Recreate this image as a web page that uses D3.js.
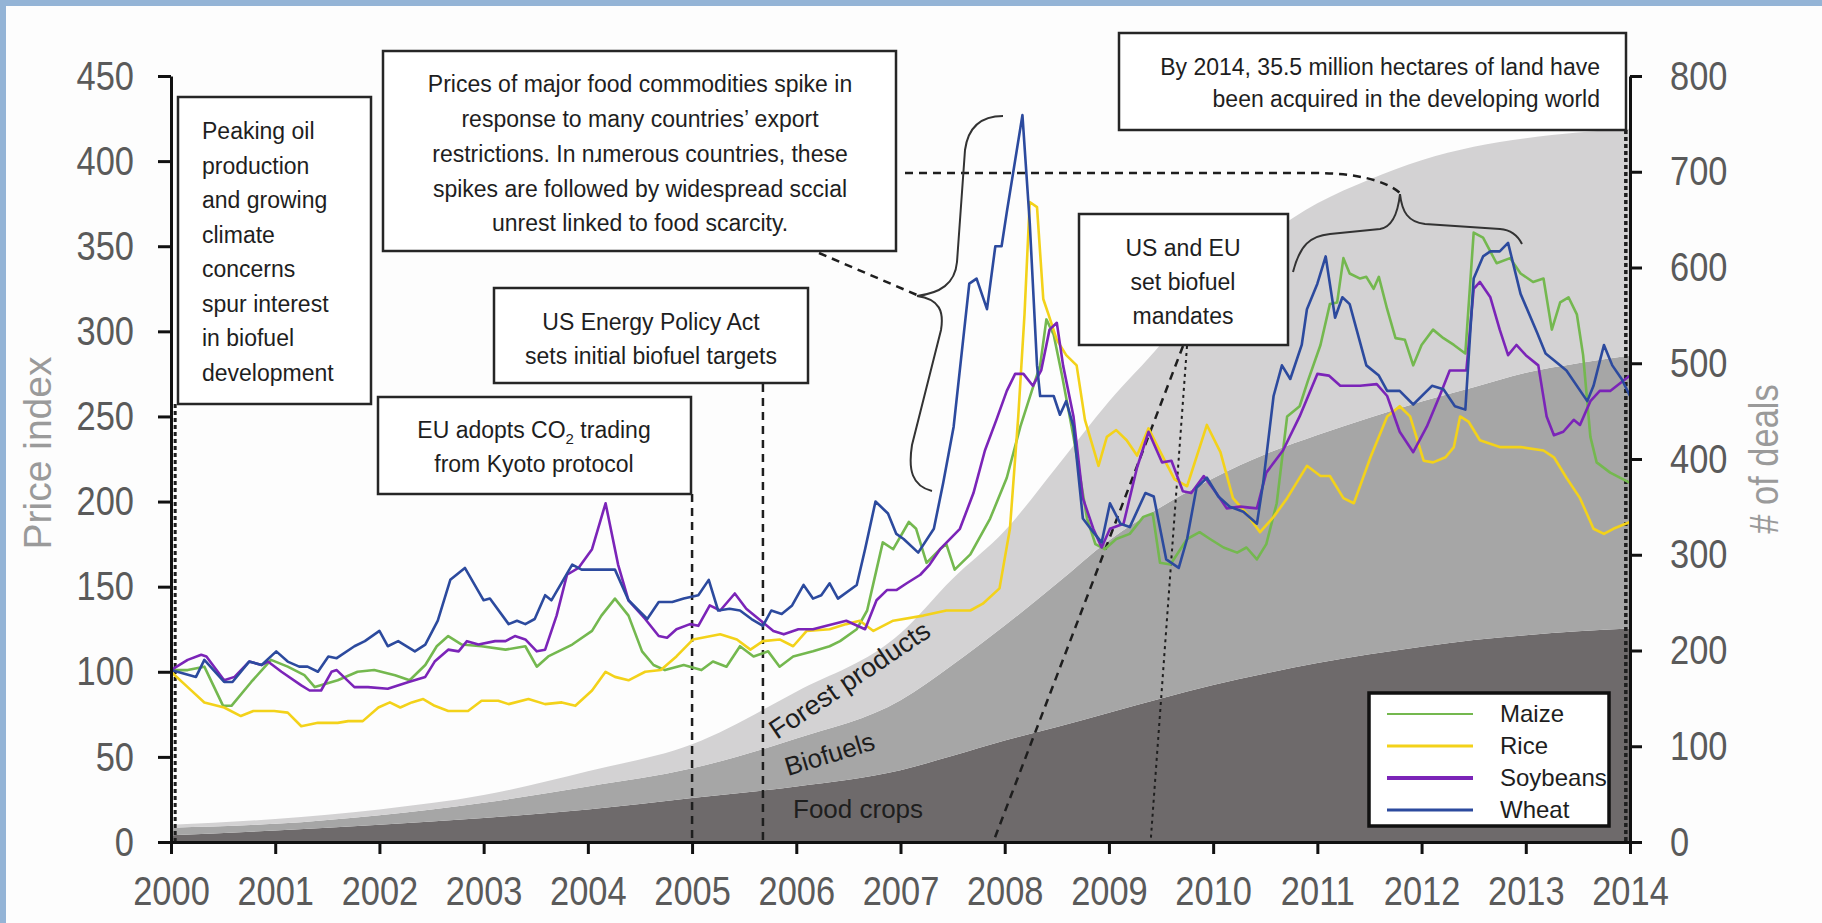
<!DOCTYPE html>
<html>
<head>
<meta charset="utf-8">
<script src="https://cdn.jsdelivr.net/npm/d3@7"></script>
<style>
  body { margin: 0; background: #fff; }
  svg { display: block; }
</style>
</head>
<body>
<script>
// chart data
var areaYears = [2000, 2001, 2002, 2003, 2004, 2005, 2006, 2007, 2007.5, 2008, 2008.5,
                 2009, 2009.5, 2010, 2010.5, 2011, 2011.5, 2012, 2012.5, 2013, 2013.5, 2014];
var foodCrops = [7, 12, 18, 25, 34, 46, 58, 75, 90, 106, 120, 135, 150, 164, 176, 187, 196, 204, 211, 216, 220, 223];
var biofuels = [8, 7, 10, 16, 24, 31, 50, 73, 95, 120, 150, 180, 200, 216, 229, 238, 247, 256, 264, 274, 280, 285];
var forestProducts = [3, 5, 6, 8, 16, 25, 49, 70, 90, 99, 122, 145, 170, 210, 227, 242, 249, 252, 251, 245, 241, 237];

var maize = [[2000.00,101],[2000.16,101],[2000.32,103],[2000.50,80],[2000.58,80],[2000.77,94],[2000.96,107],[2001.12,103],[2001.28,98],[2001.38,91],[2001.60,95],[2001.79,100],[2001.95,101],[2002.15,98],[2002.29,95],[2002.44,104],[2002.55,115],[2002.66,121],[2002.79,116],[2002.98,115],[2003.21,113],[2003.40,115],[2003.51,103],[2003.62,109],[2003.85,116],[2004.04,124],[2004.13,133],[2004.26,143],[2004.39,133],[2004.52,112],[2004.63,104],[2004.74,101],[2004.92,104],[2005.09,101],[2005.20,106],[2005.33,103],[2005.46,115],[2005.59,109],[2005.73,112],[2005.84,103],[2005.97,109],[2006.16,112],[2006.32,115],[2006.42,118],[2006.58,125],[2006.68,136],[2006.77,160],[2006.83,176],[2006.93,172],[2007.08,188],[2007.15,184],[2007.25,164],[2007.38,172],[2007.44,175],[2007.52,160],[2007.67,169],[2007.86,190],[2008.02,214],[2008.15,244],[2008.26,265],[2008.34,280],[2008.40,307],[2008.47,298],[2008.55,274],[2008.66,238],[2008.79,190],[2008.87,175],[2008.96,172],[2009.07,178],[2009.20,181],[2009.33,191],[2009.42,193],[2009.49,164],[2009.59,163],[2009.75,178],[2009.87,182],[2009.97,178],[2010.10,173],[2010.23,170],[2010.32,173],[2010.42,166],[2010.51,175],[2010.61,199],[2010.71,250],[2010.83,256],[2010.91,271],[2011.03,292],[2011.12,316],[2011.19,317],[2011.25,343],[2011.31,334],[2011.41,331],[2011.47,332],[2011.54,325],[2011.59,332],[2011.67,313],[2011.75,296],[2011.84,295],[2011.92,280],[2012.00,292],[2012.11,301],[2012.21,296],[2012.31,292],[2012.42,287],[2012.50,358],[2012.59,355],[2012.72,340],[2012.85,343],[2012.95,334],[2013.07,329],[2013.17,331],[2013.25,301],[2013.33,317],[2013.41,320],[2013.49,310],[2013.55,286],[2013.62,238],[2013.68,223],[2013.81,217],[2014.00,211]];

var rice = [[2000.00,100],[2000.16,91],[2000.32,82],[2000.51,79],[2000.67,74],[2000.79,77],[2000.99,77],[2001.12,76],[2001.25,68],[2001.41,70],[2001.60,70],[2001.70,71],[2001.84,71],[2001.99,79],[2002.10,82],[2002.20,79],[2002.31,82],[2002.42,84],[2002.53,80],[2002.66,77],[2002.85,77],[2002.98,83],[2003.14,83],[2003.24,81],[2003.43,84],[2003.59,81],[2003.75,82],[2003.88,80],[2004.04,89],[2004.17,100],[2004.26,97],[2004.39,95],[2004.55,100],[2004.70,101],[2004.85,109],[2005.01,119],[2005.27,122],[2005.43,119],[2005.56,113],[2005.68,118],[2005.84,119],[2005.97,115],[2006.10,124],[2006.32,125],[2006.48,128],[2006.61,130],[2006.74,124],[2006.93,130],[2007.22,133],[2007.44,136],[2007.67,136],[2007.79,140],[2007.95,149],[2008.05,184],[2008.13,250],[2008.19,310],[2008.24,376],[2008.31,373],[2008.37,319],[2008.42,310],[2008.50,295],[2008.59,286],[2008.69,280],[2008.77,248],[2008.90,221],[2008.98,238],[2009.07,242],[2009.17,236],[2009.27,227],[2009.38,243],[2009.52,226],[2009.63,213],[2009.75,209],[2009.94,245],[2010.07,229],[2010.19,202],[2010.32,193],[2010.45,182],[2010.58,191],[2010.71,202],[2010.90,221],[2011.03,215],[2011.12,215],[2011.25,202],[2011.35,199],[2011.51,226],[2011.67,250],[2011.79,256],[2011.89,250],[2012.02,224],[2012.11,223],[2012.23,226],[2012.31,232],[2012.37,250],[2012.45,247],[2012.56,236],[2012.75,232],[2012.95,232],[2013.17,230],[2013.27,226],[2013.39,214],[2013.52,202],[2013.65,184],[2013.75,181],[2013.84,184],[2014.00,188]];

var soybeans = [[2000.00,101],[2000.16,107],[2000.29,110],[2000.34,109],[2000.51,95],[2000.61,97],[2000.75,106],[2000.87,104],[2000.93,106],[2001.06,100],[2001.25,92],[2001.33,89],[2001.44,89],[2001.54,100],[2001.59,101],[2001.76,91],[2001.89,91],[2002.08,90],[2002.28,94],[2002.44,97],[2002.53,106],[2002.66,113],[2002.76,112],[2002.84,118],[2002.95,116],[2003.11,118],[2003.21,118],[2003.30,121],[2003.40,119],[2003.51,112],[2003.59,113],[2003.70,133],[2003.80,157],[2003.91,161],[2004.04,172],[2004.17,199],[2004.29,163],[2004.39,142],[2004.55,131],[2004.68,121],[2004.76,120],[2004.85,125],[2004.98,128],[2005.06,127],[2005.17,139],[2005.27,136],[2005.41,146],[2005.52,137],[2005.64,131],[2005.78,124],[2005.88,122],[2006.02,125],[2006.16,125],[2006.29,127],[2006.48,130],[2006.66,125],[2006.77,142],[2006.87,148],[2006.96,148],[2007.06,152],[2007.19,157],[2007.28,163],[2007.38,172],[2007.57,184],[2007.70,205],[2007.81,230],[2007.92,248],[2008.02,265],[2008.10,275],[2008.18,275],[2008.27,268],[2008.35,277],[2008.43,301],[2008.50,305],[2008.56,280],[2008.66,250],[2008.75,202],[2008.85,184],[2008.93,173],[2009.01,184],[2009.14,187],[2009.27,220],[2009.38,241],[2009.51,223],[2009.60,224],[2009.71,206],[2009.79,205],[2009.91,215],[2010.03,205],[2010.13,196],[2010.26,197],[2010.42,196],[2010.51,217],[2010.67,230],[2010.83,250],[2011.00,275],[2011.11,274],[2011.22,268],[2011.41,268],[2011.57,269],[2011.67,262],[2011.79,241],[2011.92,229],[2012.05,244],[2012.18,263],[2012.27,277],[2012.43,277],[2012.50,325],[2012.56,329],[2012.66,320],[2012.75,301],[2012.83,286],[2012.91,292],[2013.00,286],[2013.12,280],[2013.20,250],[2013.27,239],[2013.36,241],[2013.46,248],[2013.52,245],[2013.62,259],[2013.71,265],[2013.81,265],[2014.00,274]];

var wheat = [[2000.00,101],[2000.24,97],[2000.32,107],[2000.51,94],[2000.59,94],[2000.75,106],[2000.87,104],[2001.01,112],[2001.12,106],[2001.23,103],[2001.31,103],[2001.41,100],[2001.51,109],[2001.59,108],[2001.76,115],[2001.86,118],[2002.00,124],[2002.08,115],[2002.18,118],[2002.34,112],[2002.44,116],[2002.56,130],[2002.68,154],[2002.82,161],[2003.00,142],[2003.06,143],[2003.24,128],[2003.32,130],[2003.40,128],[2003.49,131],[2003.59,145],[2003.65,142],[2003.85,163],[2003.94,160],[2004.07,160],[2004.26,160],[2004.39,142],[2004.57,131],[2004.68,141],[2004.81,141],[2004.92,143],[2005.06,145],[2005.16,154],[2005.25,136],[2005.36,137],[2005.46,136],[2005.57,131],[2005.68,127],[2005.76,136],[2005.86,134],[2005.96,139],[2006.07,151],[2006.16,143],[2006.24,145],[2006.32,152],[2006.40,143],[2006.58,151],[2006.66,172],[2006.76,200],[2006.88,193],[2006.96,181],[2007.03,178],[2007.17,170],[2007.32,184],[2007.41,211],[2007.51,244],[2007.66,328],[2007.73,331],[2007.83,313],[2007.91,350],[2007.97,350],[2008.02,370],[2008.17,427],[2008.24,364],[2008.31,280],[2008.34,262],[2008.47,262],[2008.53,251],[2008.59,259],[2008.66,244],[2008.75,190],[2008.85,182],[2008.93,176],[2009.01,199],[2009.11,187],[2009.20,185],[2009.35,205],[2009.43,203],[2009.55,166],[2009.67,161],[2009.75,178],[2009.84,208],[2009.94,214],[2010.05,203],[2010.16,197],[2010.29,194],[2010.42,187],[2010.48,211],[2010.58,262],[2010.66,280],[2010.74,272],[2010.85,292],[2010.90,313],[2011.00,328],[2011.08,344],[2011.17,308],[2011.24,320],[2011.31,316],[2011.47,280],[2011.59,274],[2011.67,265],[2011.79,265],[2011.92,257],[2012.10,268],[2012.21,266],[2012.32,256],[2012.42,254],[2012.50,331],[2012.59,344],[2012.66,347],[2012.75,347],[2012.83,352],[2012.95,322],[2013.11,299],[2013.19,287],[2013.27,283],[2013.39,277],[2013.59,259],[2013.65,268],[2013.75,292],[2013.83,280],[2013.92,272],[2014.00,262]];

var seriesNames = ["Maize", "Rice", "Soybeans", "Wheat"];
var priceTicks = d3.range(0, 451, 50);
var dealTicks = d3.range(0, 801, 100);
var yearTicks = d3.range(2000, 2015, 1);

// ---------------------------------------------------------------
var W = 1822, H = 923;
var margin = {left: 171, right: 192, top: 76, bottom: 81};
var sans = '"Liberation Sans", Arial, sans-serif';
var squeeze = 0.84;   // tick labels in the picture are a narrow face

var colors = {Maize: "#74b84f", Rice: "#f3d21a", Soybeans: "#7b24b8", Wheat: "#2c4a9e"};
var layerColors = ["#6e6a6b", "#a6a6a6", "#d3d2d3"];

var svg = d3.select("body").append("svg")
            .attr("width", W)
            .attr("height", H);

svg.append("rect").attr("width", W).attr("height", H).attr("fill", "#fdfdfd");
svg.append("rect").attr("width", W).attr("height", 6).attr("fill", "#94b4d6");
svg.append("rect").attr("width", 6).attr("height", H).attr("fill", "#94b4d6");

var x = d3.scaleLinear().domain([2000, 2014]).range([margin.left, W - margin.right]);
var yPrice = d3.scaleLinear().domain([0, 450]).range([H - margin.bottom, margin.top]);
var yDeals = d3.scaleLinear().domain([0, 800]).range([H - margin.bottom, margin.top]);

// stacked land deal areas
var table = areaYears.map(function(yr, i) {
  return {year: yr, food: foodCrops[i], bio: biofuels[i], forest: forestProducts[i]};
});
var stacked = d3.stack().keys(["food", "bio", "forest"])(table);
var area = d3.area()
             .curve(d3.curveMonotoneX)
             .x(function(d) { return x(d.data.year); })
             .y0(function(d) { return yDeals(d[0]); })
             .y1(function(d) { return yDeals(d[1]); });

svg.selectAll(".layer")
   .data(stacked)
   .enter()
   .append("path")
   .attr("class", "layer")
   .attr("fill", function(d, i) { return layerColors[i]; })
   .attr("d", area);

// labels in the areas
svg.append("text")
   .attr("transform", "translate(777,740) rotate(-34)")
   .style("font-family", sans).style("font-size", "27px").attr("fill", "#1e1e1e")
   .text("Forest products");
svg.append("text")
   .attr("transform", "translate(788,776) rotate(-17)")
   .style("font-family", sans).style("font-size", "26px").attr("fill", "#1e1e1e")
   .text("Biofuels");
svg.append("text")
   .attr("x", 793).attr("y", 818)
   .style("font-family", sans).style("font-size", "26px").attr("fill", "#1e1e1e")
   .text("Food crops");

// dashed guide lines
function guide(x1, y1, x2, y2, dash, width) {
  svg.append("line")
     .attr("x1", x1).attr("y1", y1).attr("x2", x2).attr("y2", y2)
     .attr("stroke", "#1e1e1e")
     .attr("stroke-width", width)
     .attr("stroke-dasharray", dash);
}
var base = yPrice(0);
guide(x(2000.04), 404, x(2000.04), base, "4,3", 3);
guide(x(2005.0), 494, x(2005.0), base, "8,6", 2.5);
guide(x(2005.68), 384, x(2005.68), base, "8,6", 2.5);
guide(1183, 346, x(2007.89), base, "8,6", 2.5);
guide(1187, 346, x(2009.4), base, "3,4", 2);
guide(x(2013.96), 130, x(2013.96), base, "4,3", 3.5);
guide(819, 253, 917, 295, "8,6", 2.5);

svg.append("path")
   .attr("d", "M905,173 L1313,173 C1355,173 1385,180 1400,193")
   .attr("fill", "none").attr("stroke", "#1e1e1e")
   .attr("stroke-width", 2.5).attr("stroke-dasharray", "8,6");

// commodity price lines
var line = d3.line()
             .x(function(d) { return x(d[0]); })
             .y(function(d) { return yPrice(d[1]); });

var allSeries = [maize, rice, soybeans, wheat];
svg.selectAll(".price")
   .data(allSeries)
   .enter()
   .append("path")
   .attr("class", "price")
   .attr("fill", "none")
   .attr("stroke", function(d, i) { return colors[seriesNames[i]]; })
   .attr("stroke-width", 2.6)
   .attr("stroke-linejoin", "round")
   .attr("d", line);

// braces
svg.append("path")
   .attr("d", "M1003,116 C980,116 968,128 965,150 L957,262 C955,284 940,293 917,296 " +
              "C940,299 944,312 941,330 L912,445 C908,470 912,486 932,491")
   .attr("fill", "none").attr("stroke", "#333").attr("stroke-width", 2);
svg.append("path")
   .attr("d", "M1293,272 C1300,245 1310,236 1330,234 L1380,229 C1393,227 1398,212 1400,194 " +
              "C1402,212 1408,222 1425,224 L1500,229 C1512,230 1518,236 1522,244")
   .attr("fill", "none").attr("stroke", "#333").attr("stroke-width", 2);

// annotation boxes
function note(bx, by, bw, bh, tx, ty, anchor, textLines) {
  svg.append("rect")
     .attr("x", bx).attr("y", by).attr("width", bw).attr("height", bh)
     .attr("fill", "#fff").attr("stroke", "#262626").attr("stroke-width", 2.5);
  var t = svg.append("text")
             .style("font-family", sans).style("font-size", "23px")
             .attr("fill", "#1e1e1e")
             .attr("text-anchor", anchor);
  textLines.forEach(function(s, i) {
    t.append("tspan").attr("x", tx).attr("y", ty[i]).text(s);
  });
  return t;
}

note(178, 97, 193, 307, 202, d3.range(8).map(function(i) { return 139 + i * 34.5; }), "start",
     ["Peaking oil", "production", "and growing", "climate", "concerns",
      "spur interest", "in biofuel", "development"]);
note(383, 51, 513, 200, 640, [92, 127, 162, 197, 231], "middle",
     ["Prices of major food commodities spike in",
      "response to many countries\u2019 export",
      "restrictions. In n\u0279merous countries, these",
      "spikes are followed by widespread sccial",
      "unrest linked to food scarcity."]);
note(494, 288, 314, 95, 651, [330, 364], "middle",
     ["US Energy Policy Act", "sets initial biofuel targets"]);
note(1079, 214, 209, 131, 1183, [256, 290, 324], "middle",
     ["US and EU", "set biofuel", "mandates"]);
note(1119, 33, 507, 97, 1600, [75, 107], "end",
     ["By 2014, 35.5 million hectares of land have",
      "been acquired in the developing world"]);

// EU box with subscript
svg.append("rect")
   .attr("x", 378).attr("y", 397).attr("width", 313).attr("height", 97)
   .attr("fill", "#fff").attr("stroke", "#262626").attr("stroke-width", 2.5);
var eu = svg.append("text")
            .style("font-family", sans).style("font-size", "23px")
            .attr("fill", "#1e1e1e").attr("text-anchor", "middle");
var eu1 = eu.append("tspan").attr("x", 534).attr("y", 438);
eu1.append("tspan").text("EU adopts CO");
eu1.append("tspan").attr("dy", 6).style("font-size", "15px").text("2");
eu1.append("tspan").attr("dy", -6).text(" trading");
eu.append("tspan").attr("x", 534).attr("y", 472).text("from Kyoto protocol");

// axes
function styleAxis(g, offset) {
  g.select(".domain").attr("stroke", "#111").attr("stroke-width", 3);
  g.selectAll(".tick line").attr("stroke", "#111").attr("stroke-width", 3);
  var labels = g.selectAll(".tick text")
                .attr("fill", "#5a5a5a")
                .style("font-family", sans)
                .style("font-size", "41px")
                .attr("transform", "scale(" + squeeze + ",1)");
  if (offset) {
    labels.attr("x", offset / squeeze);
  }
}

svg.append("g")
   .attr("transform", "translate(" + margin.left + ",0)")
   .call(d3.axisLeft(yPrice).tickValues(priceTicks).tickSize(13).tickPadding(24).tickSizeOuter(0))
   .call(styleAxis, -37);

svg.append("g")
   .attr("transform", "translate(" + (W - margin.right) + ",0)")
   .call(d3.axisRight(yDeals).tickValues(dealTicks).tickSize(12).tickPadding(28).tickSizeOuter(0))
   .call(styleAxis, 40);

svg.append("g")
   .attr("transform", "translate(0," + (H - margin.bottom) + ")")
   .call(d3.axisBottom(x).tickValues(yearTicks).tickFormat(d3.format("d"))
           .tickSize(12).tickPadding(22).tickSizeOuter(0))
   .call(styleAxis, 0);

// axis titles
svg.append("text")
   .attr("transform", "translate(51,453) rotate(-90)")
   .attr("text-anchor", "middle")
   .style("font-family", sans).style("font-size", "39px")
   .attr("fill", "#9a9a9a")
   .text("Price index");
svg.append("text")
   .attr("transform", "translate(1778,459) rotate(-90) scale(" + squeeze + ",1)")
   .attr("text-anchor", "middle")
   .style("font-family", sans).style("font-size", "41px")
   .attr("fill", "#9a9a9a")
   .text("# of deals");

// legend
var legend = svg.append("g");
legend.append("rect")
      .attr("x", 1369).attr("y", 693).attr("width", 240).attr("height", 133)
      .attr("fill", "#fff").attr("stroke", "#111").attr("stroke-width", 3.5);
var legY = d3.scalePoint().domain(seriesNames).range([714, 810]);
var legWidth = {Maize: 2.2, Rice: 3, Soybeans: 4, Wheat: 3};
seriesNames.forEach(function(name) {
  legend.append("line")
        .attr("x1", 1387).attr("x2", 1473)
        .attr("y1", legY(name)).attr("y2", legY(name))
        .attr("stroke", colors[name])
        .attr("stroke-width", legWidth[name]);
  legend.append("text")
        .attr("x", 1500).attr("y", legY(name) + 8)
        .style("font-family", sans).style("font-size", "24px")
        .attr("fill", "#1e1e1e")
        .text(name);
});
</script>
</body>
</html>
